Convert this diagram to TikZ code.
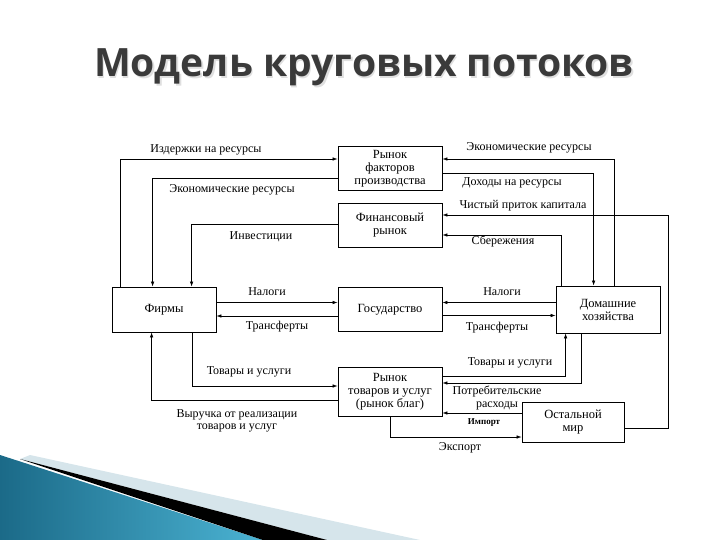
\documentclass[tikz,border=0pt]{standalone}
\usepackage{fontspec}
\setmainfont{Liberation Serif}
\newfontfamily\titlefont{Open Sans}
\usepackage{xcolor}
\usetikzlibrary{arrows.meta, positioning}

\definecolor{tealdark}{HTML}{1B6A88}
\definecolor{teallight}{HTML}{4BB3D3}
\definecolor{palestripe}{HTML}{D6E5EB}
\definecolor{titlegray}{HTML}{3A3A3A}

\tikzset{
  block/.style={draw, line width=0.8pt, minimum width=104pt, minimum height=44pt,
    align=center, inner sep=1pt, font=\fontsize{12.5}{13}\selectfont},
  flow/.style={draw, line width=0.6pt, -{Latex[length=5pt,width=3.5pt]}},
  lbl/.style={inner sep=0pt, align=center, font=\fontsize{12}{12.5}\selectfont},
  titletext/.style={font=\titlefont\bfseries\fontsize{39}{46}\selectfont, anchor=base},
}

\begin{document}
\begin{tikzpicture}[x=1pt, y=-1pt, on grid]
  \useasboundingbox (0,0) rectangle (720,540);

  % corner decoration
  \fill[palestripe] (30,455) -- (420,540) -- (327,540) -- (20,459) -- cycle;
  \shade[left color=tealdark, right color=teallight] (0,455) -- (263,540) -- (0,540) -- cycle;
  \fill[black] (20,459) -- (327,540) -- (263,540) -- cycle;

  % title
  \node[titletext, text=gray!25] at (365.5,78.5) {Модель круговых потоков};
  \node[titletext, text=titlegray] (title) at (364,77) {Модель круговых потоков};

  % blocks
  \node[block] (gov) at (390,309.5) {Государство};
  \node[block, left=226pt of gov, minimum height=45pt] (firms) {Фирмы};
  \node[block, right=218pt of gov, minimum height=47pt] (home) {Домашние\\хозяйства};
  \node[block, above=84.5pt of gov] (fin) {Финансовый\\рынок};
  \node[block, above=56.5pt of fin] (factor) {Рынок\\факторов\\производства};
  \node[block, below=82pt of gov, minimum height=49pt] (goods) {Рынок\\товаров и услуг\\(рынок благ)};
  \node[block, minimum width=102pt, minimum height=40pt] (world) at (573,422) {Остальной\\мир};
  \coordinate (cap) at (668,215);

  % flows
  \draw[flow] ([xshift=9pt]firms.north west) |- ([yshift=9.5pt]factor.west);
  \draw[flow] ([yshift=-9.5pt]factor.west) -| ([xshift=41pt]firms.north west);
  \draw[flow] ([yshift=1pt]fin.west) -| ([xshift=80pt]firms.north west);
  \draw[flow] ([yshift=7pt]firms.east) -- ([yshift=7pt]gov.west);
  \draw[flow] ([yshift=-6.5pt]gov.west) -- ([yshift=-6.5pt]firms.east);
  \draw[flow] ([yshift=7pt]home.west) -- ([yshift=7pt]gov.east);
  \draw[flow] ([yshift=-6pt]gov.east) -- ([yshift=-6pt]home.west);
  \draw[flow] ([xshift=59pt]home.north west) |- ([yshift=9.5pt]factor.east);
  \draw[flow] ([yshift=-4.5pt]factor.east) -| ([xshift=38pt]home.north west);
  \draw[flow] ([yshift=-6pt]world.east) -| (cap) -- ([yshift=10pt]fin.east);
  \draw[flow] ([xshift=6pt]home.north west) |- ([yshift=-10pt]fin.east);
  \draw[flow] ([yshift=15.5pt]goods.east) -| ([xshift=10pt]home.south west);
  \draw[flow] ([xshift=26pt]home.south west) |- ([yshift=8.5pt]goods.east);
  \draw[flow] ([xshift=81pt]firms.south west) |- ([yshift=5.5pt]goods.west);
  \draw[flow] ([yshift=-8.5pt]goods.west) -| ([xshift=40pt]firms.south west);
  \draw[flow] ([yshift=9pt]world.west) coordinate (imp) -- (goods.east |- imp);
  \draw[flow] (goods.south) |- ([yshift=-15pt]world.west);

  % labels
  \node[lbl] at (206,150) {Издержки на ресурсы};
  \node[lbl] at (232,190) {Экономические ресурсы};
  \node[lbl] at (261,237) {Инвестиции};
  \node[lbl] at (267,292) {Налоги};
  \node[lbl] at (277,327) {Трансферты};
  \node[lbl] at (502,292) {Налоги};
  \node[lbl] at (497,328) {Трансферты};
  \node[lbl] at (529,148) {Экономические ресурсы};
  \node[lbl] at (512,183) {Доходы на ресурсы};
  \node[lbl] at (523,206) {Чистый приток капитала};
  \node[lbl] at (503,241) {Сбережения};
  \node[lbl] at (510,363) {Товары и услуги};
  \node[lbl] at (497,398) {Потребительские\\расходы};
  \node[lbl] at (249,372) {Товары и услуги};
  \node[lbl] at (237,421) {Выручка от реализации\\товаров и услуг};
  \node[lbl, font=\fontsize{9}{10}\selectfont\bfseries] at (484,423) {Импорт};
  \node[lbl] at (460,448) {Экспорт};
\end{tikzpicture}
\end{document}
